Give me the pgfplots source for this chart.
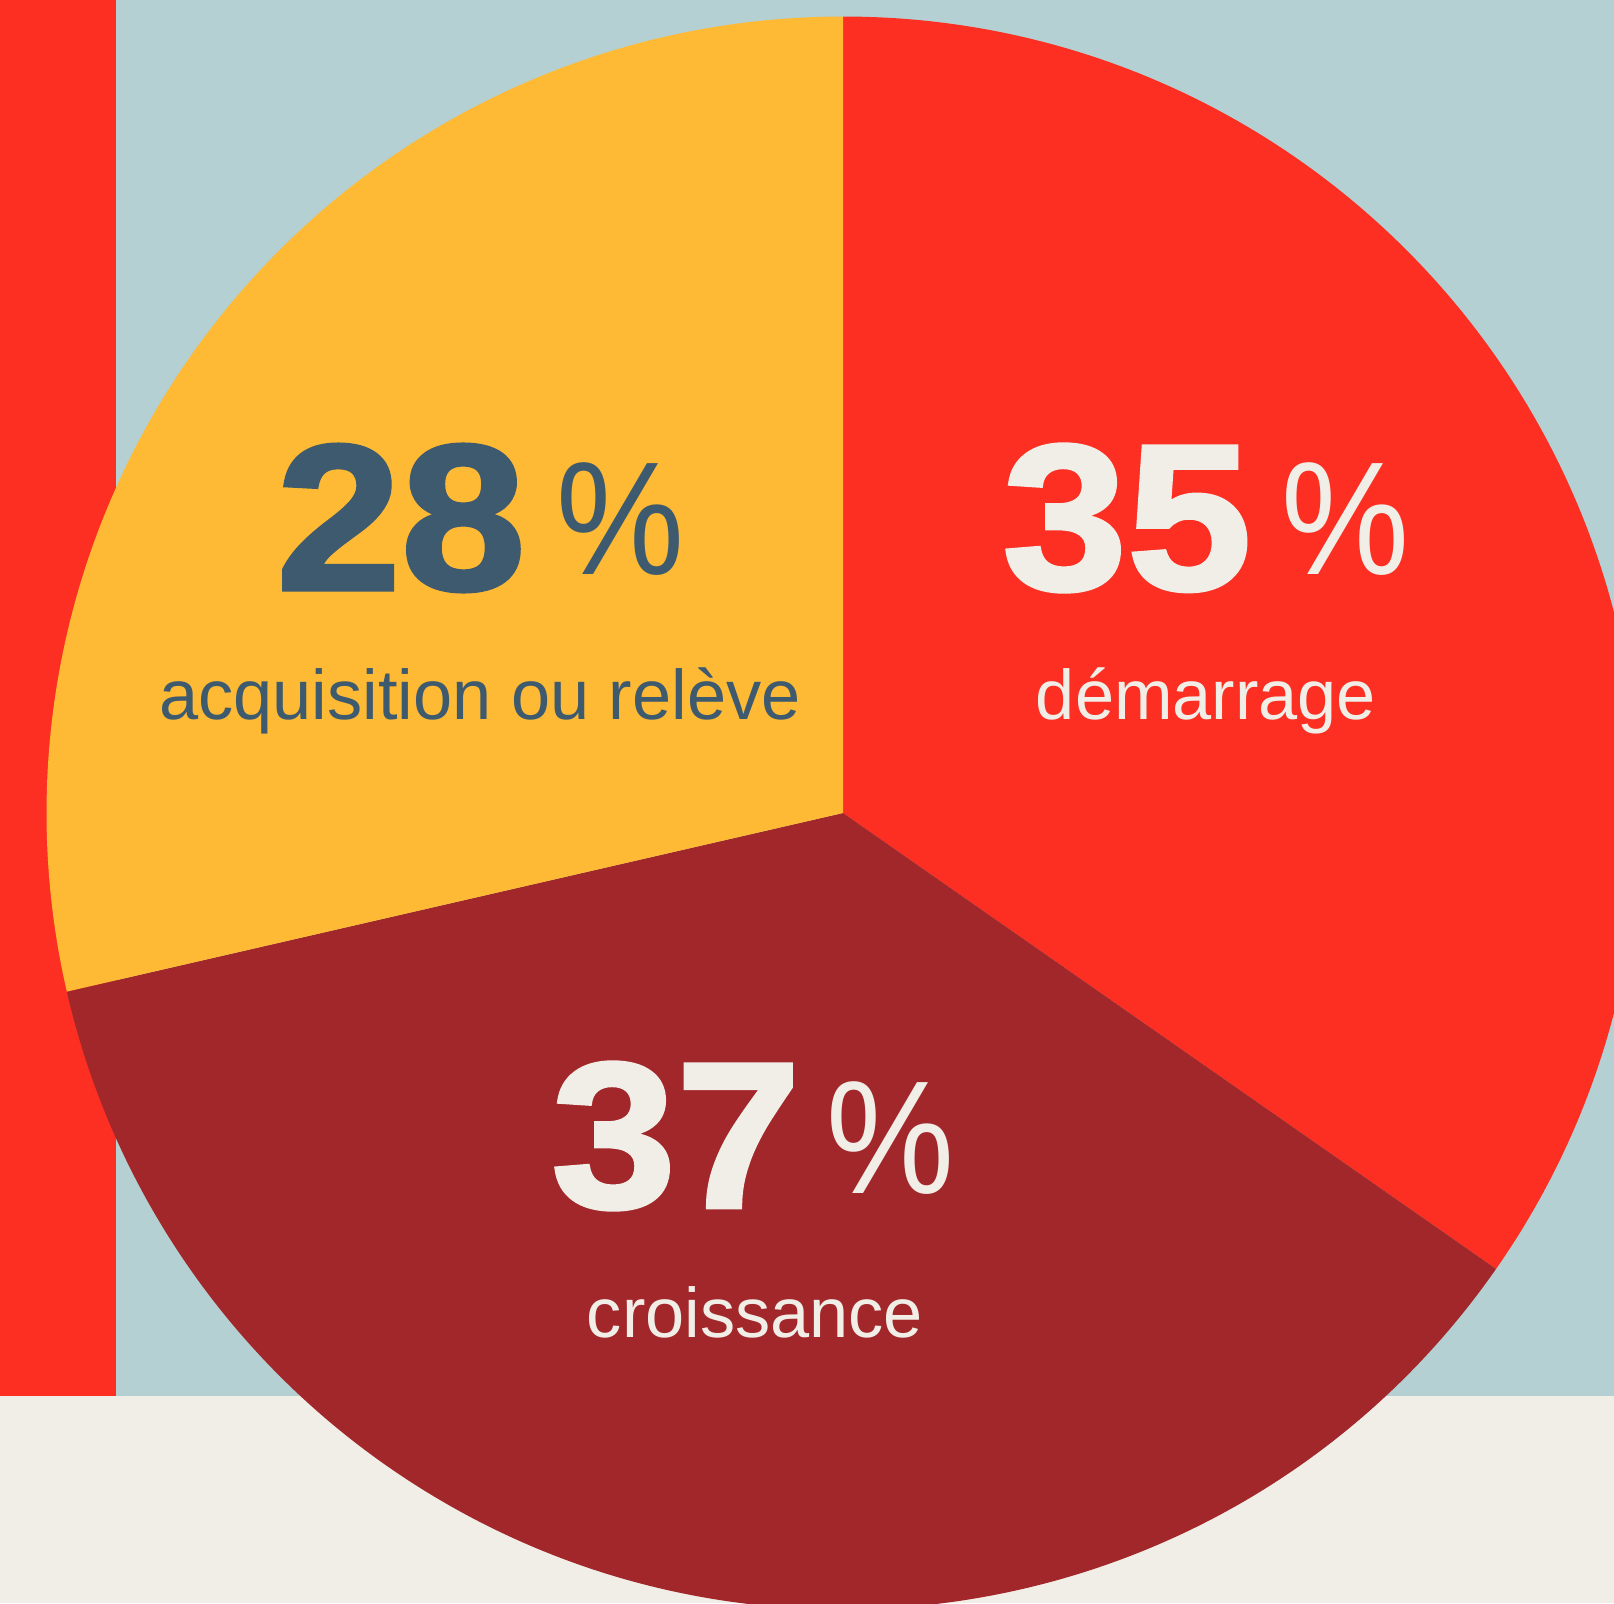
\documentclass[border=0pt]{standalone}
\usepackage{pgfplots}
\pgfplotsset{compat=1.18}
\usepackage{graphicx}
\usepackage{fontspec}
\setmainfont{Liberation Sans}
\newfontfamily\numfont{Liberation Sans}[BoldFeatures={FakeBold=2,FakeStretch=1.08}]

\definecolor{bgblue}{HTML}{B4D0D3}
\definecolor{cream}{HTML}{F1EEE7}
\definecolor{barred}{HTML}{FC2F22}
\definecolor{demcol}{HTML}{FC2F22}
\definecolor{crocol}{HTML}{A2272A}
\definecolor{acqcol}{HTML}{FEB935}
\definecolor{slate}{HTML}{3D5A6E}

% slice shares (labels show rounded values)
\def\vDem{34.7}
\def\vCro{36.7}
\def\vAcq{28.6}
\pgfmathsetmacro\aA{90}
\pgfmathsetmacro\aB{\aA-3.6*\vDem}
\pgfmathsetmacro\aC{\aB-3.6*\vCro}
\pgfmathsetmacro\aD{\aC-3.6*\vAcq}
\newcommand\pct{\scalebox{0.92}[1.03]{\%}}

\begin{document}
\begin{tikzpicture}
\begin{axis}[
    x=0.01cm, y=0.01cm,
    xmin=0, xmax=1614, ymin=0, ymax=1603,
    axis lines=none, ticks=none,
]
    \coordinate (ll) at (axis cs:0,0);
    \coordinate (ur) at (axis cs:1614,1603);
    % background
    \fill[bgblue] (axis cs:0,0) rectangle (axis cs:1614,1603);
    \fill[cream] (axis cs:0,0) rectangle (axis cs:1614,207.5);
    \fill[barred] (axis cs:0,207.5) rectangle (axis cs:116,1603);
    % pie
    \begin{scope}
    \clip (axis cs:0,0) rectangle (axis cs:1614,1603);
    \fill[demcol] (axis cs:843,790) -- ++(\aA:7.96cm) arc[start angle=\aA, end angle=\aB, radius=7.96cm] -- cycle;
    \fill[crocol] (axis cs:843,790) -- ++(\aB:7.96cm) arc[start angle=\aB, end angle=\aC, radius=7.96cm] -- cycle;
    \fill[acqcol] (axis cs:843,790) -- ++(\aC:7.96cm) arc[start angle=\aC, end angle=\aD, radius=7.96cm] -- cycle;
    \end{scope}
    % labels
    \node[slate, inner sep=0, font=\numfont\bfseries\fontsize{59}{59}\selectfont] at (axis cs:401,1085) {28};
    \node[slate, inner sep=0, font=\fontsize{44.5}{44.5}\selectfont] at (axis cs:620,1084) {\pct};
    \node[slate, inner sep=0, anchor=base, font=\fontsize{20}{24}\selectfont] at (axis cs:480,883.5) {acquisition ou relève};

    \node[cream, inner sep=0, font=\numfont\bfseries\fontsize{59}{59}\selectfont] at (axis cs:1127,1085) {35};
    \node[cream, inner sep=0, font=\fontsize{44.5}{44.5}\selectfont] at (axis cs:1345,1084) {\pct};
    \node[cream, inner sep=0, anchor=base, font=\fontsize{20}{24}\selectfont] at (axis cs:1206,883.5) {démarrage};

    \node[cream, inner sep=0, font=\numfont\bfseries\fontsize{59}{59}\selectfont] at (axis cs:676,467) {37};
    \node[cream, inner sep=0, font=\fontsize{44.5}{44.5}\selectfont] at (axis cs:890,465) {\pct};
    \node[cream, inner sep=0, anchor=base, font=\fontsize{20}{24}\selectfont] at (axis cs:755,266) {croissance};
\end{axis}
\pgfresetboundingbox
\useasboundingbox (ll) rectangle (ur);
\end{tikzpicture}
\end{document}
